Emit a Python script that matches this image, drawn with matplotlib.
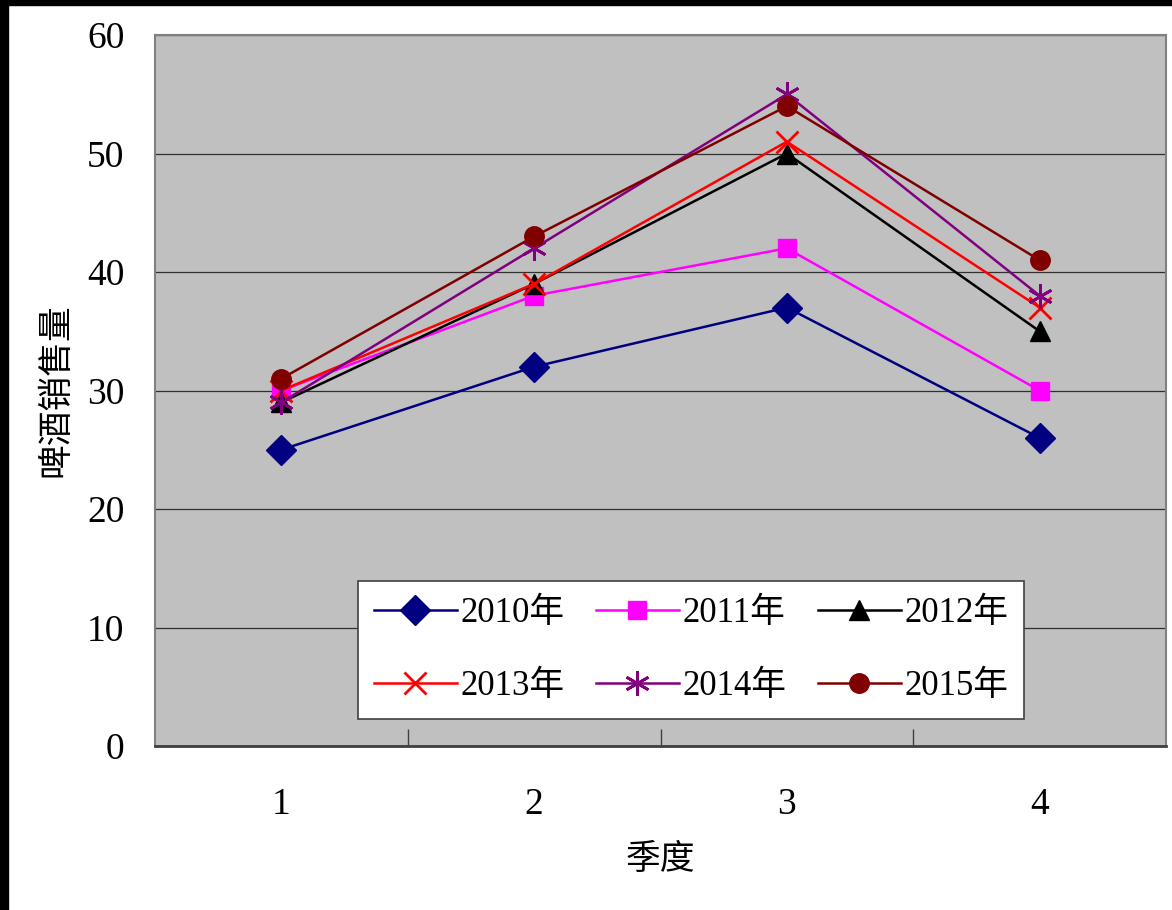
import matplotlib
matplotlib.use("Agg")
import matplotlib.pyplot as plt
import matplotlib.patches as patches

# data
quarters = [1, 2, 3, 4]
years = ["2010年", "2011年", "2012年", "2013年", "2014年", "2015年"]
sales_2010 = [25, 32, 37, 26]
sales_2011 = [30, 38, 42, 30]
sales_2012 = [29, 39, 50, 35]
sales_2013 = [30, 39, 51, 37]
sales_2014 = [29, 42, 55, 38]
sales_2015 = [31, 43, 54, 41]
y_ticks = [0, 10, 20, 30, 40, 50, 60]

FONT = ["Liberation Serif", "Noto Sans CJK SC"]
plt.rcParams["font.family"] = FONT

series = [sales_2010, sales_2011, sales_2012, sales_2013, sales_2014, sales_2015]
colors = ["#000080", "#FF00FF", "#000000", "#FF0000", "#800080", "#800000"]
markers = ["D", "s", "^", "x", (6, 2, 0), "o"]
msizes = [15, 13, 15, 16, 18, 14]

fig = plt.figure(figsize=(11.72, 9.10), dpi=100)
fig.patch.set_facecolor("white")
ax = fig.add_axes([155 / 1172, 1 - 746 / 910, 1011 / 1172, 711 / 910])
ax.set_facecolor("#C0C0C0")

lines = []
for vals, name, c, m, ms in zip(series, years, colors, markers, msizes):
    mew = 2 if m in ("x", (6, 2, 0)) else 1
    ln, = ax.plot(quarters, vals, color=c, lw=1.8, marker=m, markersize=ms,
                  markerfacecolor=c, markeredgecolor=c, markeredgewidth=mew,
                  label=name, clip_on=False)
    lines.append(ln)

ax.set_xlim(0.5, 4.5)
ax.set_ylim(0, 60)
ax.set_yticks(y_ticks)
ax.set_xticks(quarters)
ax.set_xticks([1.5, 2.5, 3.5], minor=True)
ax.tick_params(axis="x", which="major", length=0, pad=30, labelsize=27)
ax.tick_params(axis="x", which="minor", direction="in", length=12, width=1, color="#404040")
ax.tick_params(axis="y", direction="in", length=0, pad=22, labelsize=27)
ax.yaxis.grid(True, color="#303030", lw=0.9)
ax.set_axisbelow(True)

for side in ["left", "top", "right"]:
    ax.spines[side].set_color("#808080")
    ax.spines[side].set_linewidth(1.5)
ax.spines["bottom"].set_color("#404040")
ax.spines["bottom"].set_linewidth(2)

ax.set_xlabel("季度", fontsize=25)
ax.set_ylabel("啤酒销售量", fontsize=25)
ax.xaxis.set_label_coords(0.5, (746 - 860) / 711)
ax.xaxis.label.set_va("center")
ax.yaxis.set_label_coords((57 - 155) / 1011, 0.5)
ax.yaxis.label.set_va("center")

# legend fills row by row in the reference
order = [0, 3, 1, 4, 2, 5]
leg = ax.legend([lines[i] for i in order], [years[i] for i in order],
                ncol=3, loc="center", mode="expand", borderaxespad=0,
                bbox_to_anchor=(358 / 1172, 1 - 722 / 910, 666 / 1172, 144 / 910),
                bbox_transform=fig.transFigure, fancybox=False, framealpha=1,
                edgecolor="#404040", fontsize=25, handlelength=2.4,
                handletextpad=0.1, borderpad=0.45, labelspacing=1.15,
                columnspacing=0.5)
leg.get_frame().set_linewidth(1.2)

# black edge bands on left and top of the picture
fig.add_artist(patches.Rectangle((0, 0), 8 / 1172, 1, transform=fig.transFigure,
                                 color="black", zorder=10))
fig.add_artist(patches.Rectangle((0, 1 - 5 / 910), 1, 5 / 910, transform=fig.transFigure,
                                 color="black", zorder=10))

fig.savefig("out.png", dpi=100, facecolor="white")
